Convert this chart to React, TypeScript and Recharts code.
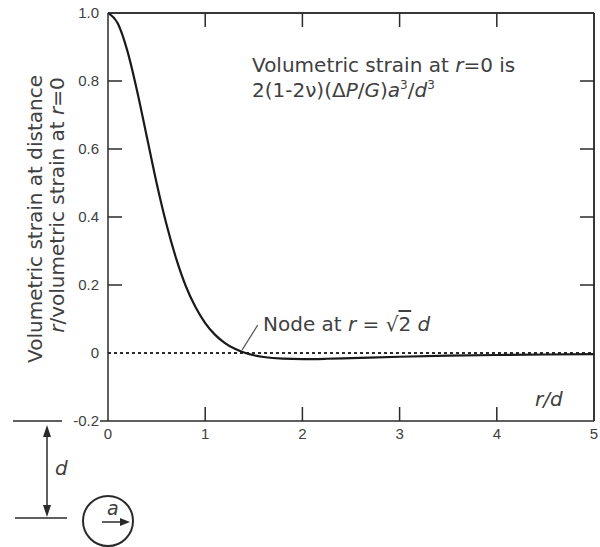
import { LineChart, Line, XAxis, YAxis, ReferenceLine } from 'recharts';

// r/d positions and the strain ratio
const rOverD = [0, 0.1, 0.2, 0.3, 0.4, 0.5, 0.6, 0.7, 0.8, 0.9, 1.0, 1.1, 1.2, 1.3, 1.414, 1.5, 1.6, 1.8, 2.0, 2.25, 2.5, 3.0, 3.5, 4.0, 4.5, 5.0];
const strainRatio = [1.0, 0.97, 0.888, 0.77, 0.635, 0.5, 0.38, 0.279, 0.197, 0.135, 0.088, 0.054, 0.03, 0.013, 0, -0.0066, -0.0117, -0.0167, -0.0179, -0.0169, -0.015, -0.0111, -0.008, -0.0059, -0.0044, -0.0033];

const xTicks = [0, 1, 2, 3, 4, 5];
const yTicks = [-0.2, 0, 0.2, 0.4, 0.6, 0.8, 1.0];
const yTickLabels = ['-0.2', '0', '0.2', '0.4', '0.6', '0.8', '1.0'];

// leader from the node crossing to the label
const nodeLeader = [
  { x: 1.38, y: 0.009 },
  { x: 1.54, y: 0.082 },
];

const data = rOverD.map((r, i) => ({ r, strain: strainRatio[i] }));

const INK = '#2a2a2a';
const TEXT = '#404040';
const TICK_FONT = "'Liberation Sans', Arial, sans-serif";
const LABEL_FONT = "'DejaVu Sans', sans-serif";
const TICK_LEN = 14;

const isEdgeY = (v: number) => v === -0.2 || v === 1.0;
const isEdgeX = (v: number) => v === 0 || v === 5;

function LeftTick(props: any) {
  const { x, y, payload } = props;
  const axisX = x + 9;
  const v = payload.value;
  const idx = yTicks.indexOf(v);
  return (
    <g>
      <text x={x} y={y} dy="0.36em" textAnchor="end" fontSize={15} fontFamily={TICK_FONT} fill={TEXT}>
        {yTickLabels[idx]}
      </text>
      {!isEdgeY(v) && v !== 0 && (
        <line x1={axisX} x2={axisX + TICK_LEN} y1={y} y2={y} stroke={INK} strokeWidth={1.5} />
      )}
      {v === -0.2 && <line x1={axisX - 8} x2={axisX} y1={y} y2={y} stroke={INK} strokeWidth={1.5} />}
    </g>
  );
}

function RightTick(props: any) {
  const { x, y, payload } = props;
  if (isEdgeY(payload.value) || payload.value === 0) return <g />;
  return <line x1={x} x2={x - TICK_LEN} y1={y} y2={y} stroke={INK} strokeWidth={1.5} />;
}

function BottomTick(props: any) {
  const { x, y, payload } = props;
  const axisY = y - 7;
  return (
    <g>
      <text x={x} y={y} dy="0.75em" textAnchor="middle" fontSize={15} fontFamily={TICK_FONT} fill={TEXT}>
        {payload.value}
      </text>
      {!isEdgeX(payload.value) && (
        <line x1={x} x2={x} y1={axisY} y2={axisY - TICK_LEN} stroke={INK} strokeWidth={1.5} />
      )}
    </g>
  );
}

function TopTick(props: any) {
  const { x, y, payload } = props;
  if (isEdgeX(payload.value)) return <g />;
  return <line x1={x} x2={x} y1={y} y2={y + TICK_LEN} stroke={INK} strokeWidth={1.5} />;
}

function Overlay() {
  const txt = { fontFamily: LABEL_FONT, fontSize: 20, fill: TEXT };
  return (
    <svg width={600} height={547} style={{ position: 'absolute', left: 0, top: 0, pointerEvents: 'none' }}>
      {/* y axis title */}
      <text {...txt} x={42} y={219} textAnchor="middle" transform="rotate(-90 42 219)">
        Volumetric strain at distance
      </text>
      <text {...txt} x={64} y={205} textAnchor="middle" transform="rotate(-90 64 205)">
        <tspan fontStyle="italic">r</tspan>/volumetric strain at <tspan fontStyle="italic">r</tspan>=0
      </text>

      {/* annotation */}
      <text {...txt} x={252} y={72}>
        Volumetric strain at <tspan fontStyle="italic">r</tspan>=0 is
      </text>
      <text {...txt} x={252} y={97}>
        2(1-2ν)(Δ<tspan fontStyle="italic">P</tspan>/<tspan fontStyle="italic">G</tspan>)
        <tspan fontStyle="italic">a</tspan>
        <tspan fontSize={12} dy={-8}>3</tspan>
        <tspan dy={8}>/</tspan>
        <tspan fontStyle="italic">d</tspan>
        <tspan fontSize={12} dy={-8}>3</tspan>
      </text>

      <text {...txt} x={263} y={331}>
        Node at <tspan fontStyle="italic">r</tspan> = √<tspan style={{ textDecoration: 'overline' }}>2</tspan> <tspan fontStyle="italic">d</tspan>
      </text>

      <text {...txt} x={535} y={406} fontStyle="italic">r/d</text>

      {/* source geometry sketch */}
      <line x1={13} x2={62} y1={421} y2={421} stroke={INK} strokeWidth={1.5} />
      <line x1={15} x2={67} y1={518} y2={518} stroke={INK} strokeWidth={1.5} />
      <line x1={47} x2={47} y1={432} y2={510} stroke={INK} strokeWidth={1.5} />
      <polygon points="47,425 43,437 51,437" fill={INK} />
      <polygon points="47,517 43,505 51,505" fill={INK} />
      <text {...txt} x={55} y={475} fontStyle="italic">d</text>
      <circle cx={108} cy={521} r={25} fill="none" stroke={INK} strokeWidth={2} />
      <text {...txt} x={107} y={515} fontStyle="italic" fontSize={19}>a</text>
      <line x1={102} x2={122} y1={522} y2={522} stroke={INK} strokeWidth={1.5} />
      <polygon points="130,522 120,518 120,526" fill={INK} />
    </svg>
  );
}

export default function App() {
  return (
    <div style={{ position: 'absolute', left: 0, top: 0, width: 600, height: 547, background: '#fff' }}>
      <LineChart width={600} height={547} data={data} margin={{ top: 12, right: 5, bottom: 125, left: 107 }}>
        <XAxis
          xAxisId="b"
          dataKey="r"
          type="number"
          domain={[0, 5]}
          ticks={xTicks}
          interval={0}
          height={1}
          tickSize={0}
          tickMargin={7}
          tickLine={false}
          axisLine={{ stroke: INK, strokeWidth: 1.5 }}
          tick={(p: any) => <BottomTick {...p} />}
          allowDataOverflow
        />
        <XAxis
          xAxisId="t"
          dataKey="r"
          orientation="top"
          type="number"
          domain={[0, 5]}
          ticks={xTicks}
          interval={0}
          height={1}
          tickSize={0}
          tickMargin={0}
          tickLine={false}
          axisLine={{ stroke: INK, strokeWidth: 1.5 }}
          tick={(p: any) => <TopTick {...p} />}
          allowDataOverflow
        />
        <YAxis
          yAxisId="l"
          type="number"
          domain={[-0.2, 1.0]}
          ticks={yTicks}
          interval={0}
          width={1}
          tickSize={0}
          tickMargin={9}
          tickLine={false}
          axisLine={{ stroke: INK, strokeWidth: 1.5 }}
          tick={(p: any) => <LeftTick {...p} />}
          allowDataOverflow
        />
        <YAxis
          yAxisId="r"
          dataKey="strain"
          orientation="right"
          type="number"
          domain={[-0.2, 1.0]}
          ticks={yTicks}
          interval={0}
          width={1}
          tickSize={0}
          tickMargin={0}
          tickLine={false}
          axisLine={{ stroke: INK, strokeWidth: 1.5 }}
          tick={(p: any) => <RightTick {...p} />}
          allowDataOverflow
        />
        {/* frame: top and right edges */}
        <ReferenceLine xAxisId="b" yAxisId="l" y={1.0} stroke={INK} strokeWidth={1.5} />
        <ReferenceLine xAxisId="b" yAxisId="l" x={5} stroke={INK} strokeWidth={1.5} />
        <ReferenceLine xAxisId="b" yAxisId="l" y={0} stroke={INK} strokeWidth={2} strokeDasharray="3 3" />
        <ReferenceLine xAxisId="b" yAxisId="l" segment={nodeLeader} stroke="#555" strokeWidth={1.2} />
        <Line
          xAxisId="b"
          yAxisId="l"
          type="monotone"
          dataKey="strain"
          stroke="#1a1a1a"
          strokeWidth={2.2}
          dot={false}
          isAnimationActive={false}
        />
      </LineChart>
      <Overlay />
    </div>
  );
}
